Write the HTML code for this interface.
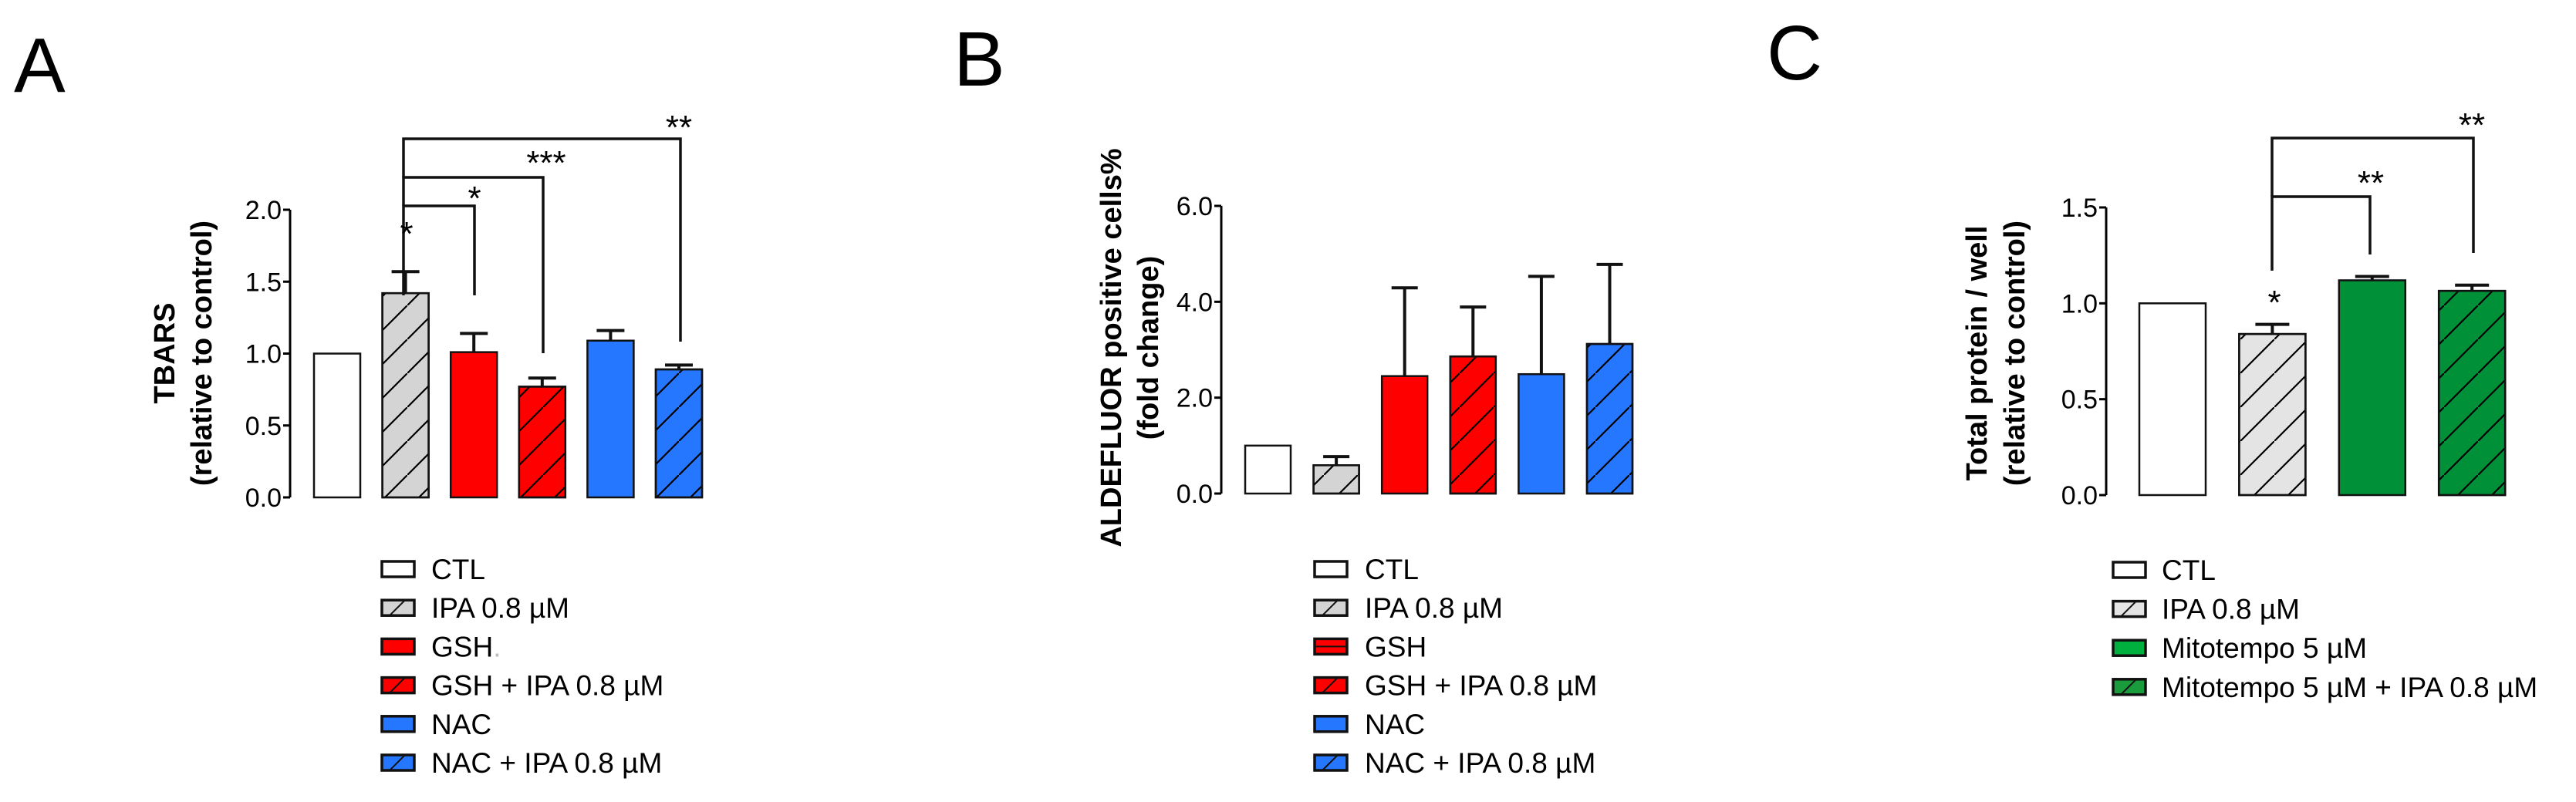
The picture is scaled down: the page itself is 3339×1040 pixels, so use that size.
<!DOCTYPE html>
<html><head><meta charset="utf-8"><style>
html,body{margin:0;padding:0;background:#fff;}
svg{display:block;font-family:"Liberation Sans",Arial,sans-serif;}
</style></head><body>
<svg id="fig" width="3339" height="1040" viewBox="0 0 3339 1040" xmlns="http://www.w3.org/2000/svg">
<defs>
<pattern id="hatch" patternUnits="userSpaceOnUse" width="44" height="44">
<line x1="-4" y1="48" x2="48" y2="-4" stroke="#000" stroke-width="2.2"/>
</pattern>
</defs>
<text x="18" y="119" font-size="100">A</text>
<text x="1236" y="111" font-size="100">B</text>
<text x="2290" y="103" font-size="100">C</text>
</svg>
<script>
// Panel A data
const catsA = ["CTL","IPA 0.8 µM","GSH","GSH + IPA 0.8 µM","NAC","NAC + IPA 0.8 µM"];
const valsA = [1.0,1.42,1.01,0.77,1.09,0.89];
const errsA = [0,0.15,0.13,0.06,0.07,0.03];
const ticksA = [0,0.5,1.0,1.5,2.0];
const tickLabelsA = ["0.0","0.5","1.0","1.5","2.0"];
const legendA = ["CTL","IPA 0.8 µM","GSH","GSH + IPA 0.8 µM","NAC","NAC + IPA 0.8 µM"];
// Panel B data
const catsB = ["CTL","IPA 0.8 µM","GSH","GSH + IPA 0.8 µM","NAC","NAC + IPA 0.8 µM"];
const valsB = [1.0,0.59,2.45,2.86,2.49,3.12];
const errsB = [0,0.18,1.84,1.03,2.04,1.66];
const ticksB = [0,2,4,6];
const tickLabelsB = ["0.0","2.0","4.0","6.0"];
const legendB = ["CTL","IPA 0.8 µM","GSH","GSH + IPA 0.8 µM","NAC","NAC + IPA 0.8 µM"];
// Panel C data
const catsC = ["CTL","IPA 0.8 µM","Mitotempo 5 µM","Mitotempo 5 µM + IPA 0.8 µM"];
const valsC = [1.0,0.84,1.12,1.065];
const errsC = [0,0.05,0.02,0.03];
const ticksC = [0,0.5,1.0,1.5];
const tickLabelsC = ["0.0","0.5","1.0","1.5"];
const legendC = ["CTL","IPA 0.8 µM","Mitotempo 5 µM","Mitotempo 5 µM + IPA 0.8 µM"];

const NS="http://www.w3.org/2000/svg";
const svg=document.getElementById('fig');
function mk(tag,attrs,parent,txt){const e=document.createElementNS(NS,tag);for(const k in attrs)e.setAttribute(k,attrs[k]);if(txt!==undefined)e.textContent=txt;(parent||svg).appendChild(e);return e;}

function panel(o){
  const g=mk('g',{});
  
  
  const y=v=>o.y0-(v-o.ticks[0])/(o.ticks[o.ticks.length-1]-o.ticks[0])*(o.y0-o.yTop);
  const ax=mk('line',{x1:o.axX,y1:y(o.ticks[o.ticks.length-1]),x2:o.axX,y2:o.y0,stroke:'#000','stroke-width':3},g);
  
  
  o.ticks.forEach((t,i)=>{
    const tk=mk('line',{x1:o.axX-9,y1:y(t),x2:o.axX,y2:y(t),stroke:'#000','stroke-width':3},g);
    
    
    const tl=mk('text',{x:o.axX-11,y:y(t)+12,'font-size':34,'text-anchor':'end'},g,o.tickLabels[i]);
    
    
  });
  o.titles.forEach((tt,i)=>{
    const t=mk('text',{x:0,y:0,'font-size':38,'font-weight':'bold','text-anchor':'middle',transform:`translate(${tt.x},${o.titleY}) rotate(-90)`},g,tt.t);
    
    
  });
  o.vals.forEach((v,i)=>{
    const x=o.barX0+i*o.step;
    const r=mk('rect',{x:x,y:y(v),width:o.barW,height:o.y0-y(v),fill:o.fills[i],stroke:'#111','stroke-width':2.5},g);
    
    
    if(o.hatch[i]){
      const h=mk('rect',{x:x,y:y(v),width:o.barW,height:o.y0-y(v),fill:'url(#hatch)',stroke:'#111','stroke-width':2.5},g);
      
      
    }
    if(o.errs[i]>0){
      const cx=x+o.barW/2;
      const e=mk('path',{d:`M${cx},${y(v)} V${y(v+o.errs[i])} M${cx-o.capW},${y(v+o.errs[i])} H${cx+o.capW}`,stroke:'#111','stroke-width':4,fill:'none'},g);
      
      
    }
  });
  o.legend.forEach((lab,i)=>{
    const ly=o.legY+i*o.legStep;
    const s=mk('rect',{x:o.legX,y:ly-10,width:42,height:20,fill:o.legFills[i],stroke:'#111','stroke-width':3.5},g);
    
    
    if(o.hatch[i]){
      const h=mk('line',{x1:o.legX+10,y1:ly+10,x2:o.legX+30,y2:ly-10,stroke:'#111','stroke-width':2},g);
      
      
    }
    if(o.midLine && o.midLine[i]){
      const h=mk('line',{x1:o.legX,y1:ly,x2:o.legX+42,y2:ly,stroke:'#111','stroke-width':2},g);
      
      
    }
    const t=mk('text',{x:o.legTX,y:ly+13,'font-size':37},g,lab);
    
    
    if(o.dot && o.dot[i]){
      const d=mk('tspan',{fill:'#bbb'},t,'.');
    }
  });
  return {g,y};
}
function bracket(g,pts,star,sx,sy,fs){
  const p=mk('path',{d:pts,stroke:'#111','stroke-width':3.5,fill:'none'},g);
  
  
  const t=mk('text',{x:sx,y:sy,'font-size':fs||42,'text-anchor':'middle'},g,star);
  
  
}

const red='#ff0000',blue='#2677ff',grayA='#d4d4d4',grayC='#e4e4e4',green='#009038',greenL='#00b03f';
const A=panel({name:'panel-a-tbars',cats:catsA,vals:valsA,errs:errsA,ticks:ticksA,tickLabels:tickLabelsA,
  axX:376,y0:645,yTop:272,barX0:407,step:88.6,barW:60,capW:18,
  fills:['#fff',grayA,red,red,blue,blue],hatch:[0,1,0,1,0,1],
  titles:[{x:226,t:'TBARS'},{x:274,t:'(relative to control)'}],titleY:458,
  legend:legendA,legFills:['#fff',grayA,red,red,blue,blue],dot:[0,0,1,0,0,0],legX:495,legTX:559,legY:738,legStep:50.2});
bracket(A.g,'M523,383 V267 H615 V383','*',615,272,44);
bracket(A.g,'M523,267 V230 H704 V458','***',708,226,44);
bracket(A.g,'M523,230 V180 H882 V443','**',880,180,44);
{const t=mk('text',{x:527,y:318,'font-size':44,'text-anchor':'middle'},A.g,'*');

}
const B=panel({name:'panel-b-aldefluor',cats:catsB,vals:valsB,errs:errsB,ticks:ticksB,tickLabels:tickLabelsB,
  axX:1583,y0:640,yTop:267,barX0:1614,step:88.6,barW:59,capW:17,
  fills:['#fff',grayA,red,red,blue,blue],hatch:[0,1,0,1,0,1],
  titles:[{x:1453,t:'ALDEFLUOR positive cells%'},{x:1501,t:'(fold change)'}],titleY:451,
  legend:legendB,legFills:['#fff',grayA,red,red,blue,blue],midLine:[0,0,1,0,0,0],legX:1704,legTX:1769,legY:738,legStep:50.2});
const C=panel({name:'panel-c-total-protein',cats:catsC,vals:valsC,errs:errsC,ticks:ticksC,tickLabels:tickLabelsC,
  axX:2730,y0:642,yTop:269,barX0:2773,step:129.4,barW:86,capW:22,
  fills:['#fff',grayC,green,green],hatch:[0,1,0,1],
  titles:[{x:2575,t:'Total protein / well'},{x:2624,t:'(relative to control)'}],titleY:458,
  legend:legendC,legFills:['#fff',grayC,greenL,'#1a9b3c'],legX:2739,legTX:2802,legY:739,legStep:50.6});
bracket(C.g,'M2945,351 V255 H3072 V330','**',3073,252,44);
bracket(C.g,'M2945,255 V179 H3206 V328','**',3204,177,44);
{const t=mk('text',{x:2948,y:407,'font-size':44,'text-anchor':'middle'},C.g,'*');

}
</script>
</body></html>
